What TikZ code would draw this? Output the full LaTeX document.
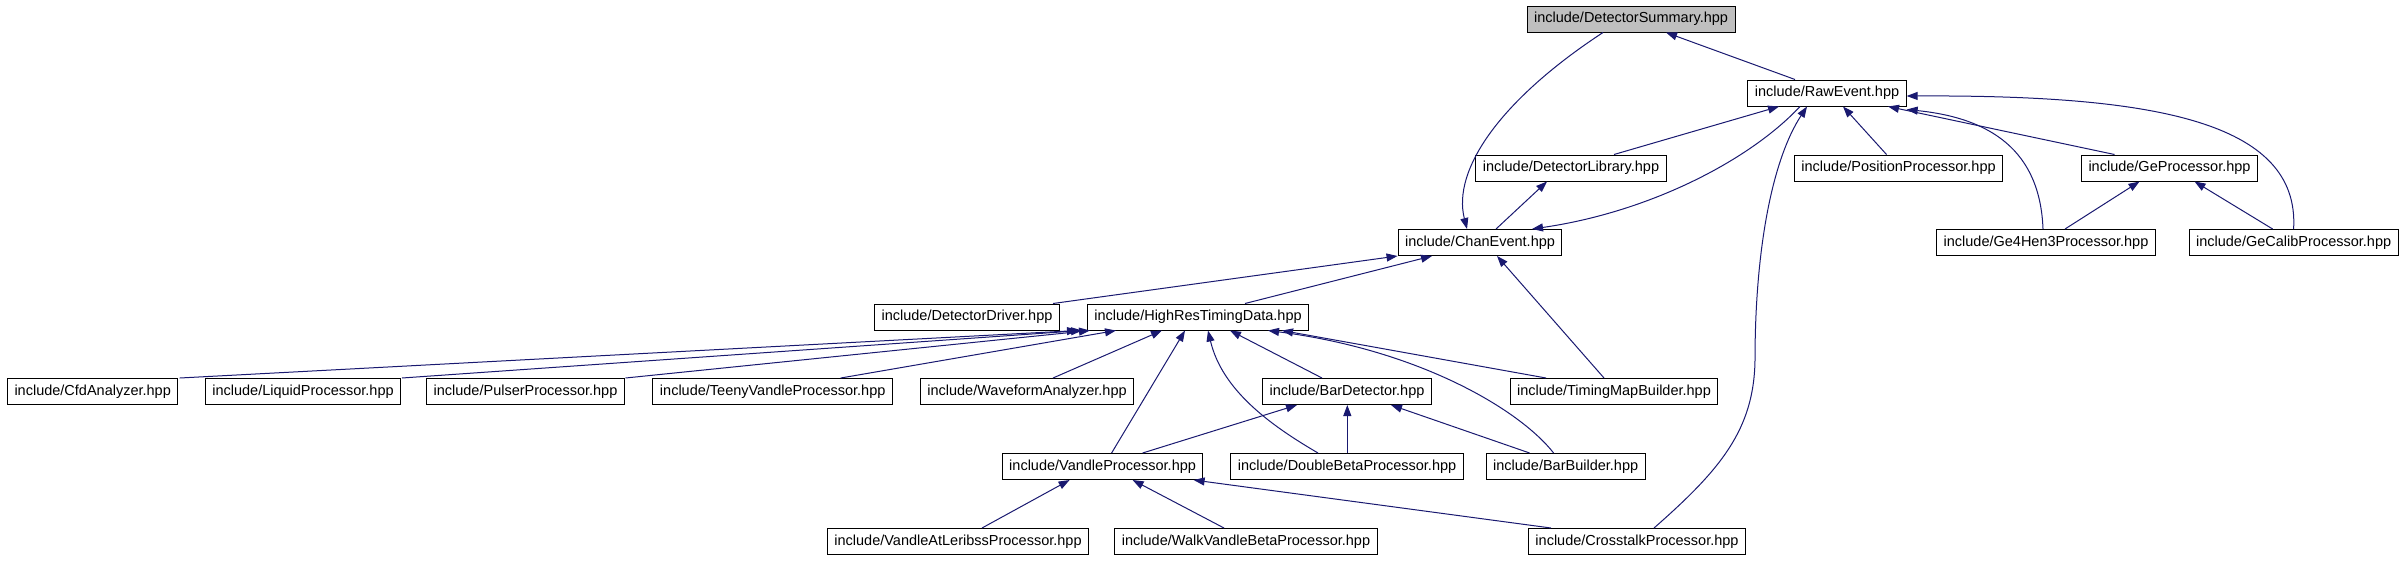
\documentclass[tikz,border=0pt]{standalone}
\usepackage{fontspec}
\setmainfont{Liberation Sans}
\usepackage{tikz}
\usetikzlibrary{arrows.meta}
\definecolor{edgeblue}{HTML}{191970}
\tikzset{
  hdr/.style={draw, fill=white, line width=1pt, inner xsep=7pt, inner ysep=0pt,
    minimum height=26pt, font=\fontsize{14.5}{16}\selectfont},
  cur/.style={hdr, fill=black!25},
  dep/.style={draw=edgeblue, line width=1pt, -{Triangle[length=11pt,width=8pt]}},
  >=Stealth
}
\begin{document}
\begin{tikzpicture}[x=1pt, y=-1pt]
  \useasboundingbox (0,0) rectangle (2405,560);
  % headers
  \node[cur] (ds) at (1631,19) {include/DetectorSummary.hpp};
  \node[hdr] (re) at (1827,93) {include/RawEvent.hpp};
  \node[hdr] (dl) at (1571,168) {include/DetectorLibrary.hpp};
  \node[hdr] (pos) at (1898.5,168) {include/PositionProcessor.hpp};
  \node[hdr] (ge) at (2169.5,168) {include/GeProcessor.hpp};
  \node[hdr] (ce) at (1480,242.5) {include/ChanEvent.hpp};
  \node[hdr] (g4) at (2046,242.5) {include/Ge4Hen3Processor.hpp};
  \node[hdr] (gc) at (2293.6,242.5) {include/GeCalibProcessor.hpp};
  \node[hdr] (dd) at (967,317) {include/DetectorDriver.hpp};
  \node[hdr] (hr) at (1198,317) {include/HighResTimingData.hpp};
  \node[hdr] (ca) at (92.7,391.5) {include/CfdAnalyzer.hpp};
  \node[hdr] (lp) at (303,391.5) {include/LiquidProcessor.hpp};
  \node[hdr] (pu) at (525.5,391.5) {include/PulserProcessor.hpp};
  \node[hdr] (tv) at (772.7,391.5) {include/TeenyVandleProcessor.hpp};
  \node[hdr] (wa) at (1027,391.5) {include/WaveformAnalyzer.hpp};
  \node[hdr] (bd) at (1347,391.5) {include/BarDetector.hpp};
  \node[hdr] (tm) at (1614,391.5) {include/TimingMapBuilder.hpp};
  \node[hdr] (vp) at (1102.6,466.5) {include/VandleProcessor.hpp};
  \node[hdr] (db) at (1347,466.5) {include/DoubleBetaProcessor.hpp};
  \node[hdr] (bb) at (1565.6,466.5) {include/BarBuilder.hpp};
  \node[hdr] (va) at (958,541.5) {include/VandleAtLeribssProcessor.hpp};
  \node[hdr] (wv) at (1246,541.5) {include/WalkVandleBetaProcessor.hpp};
  \node[hdr] (ct) at (1637,541.5) {include/CrosstalkProcessor.hpp};
  % upper part
  \draw[dep] ([xshift=-28pt]ds.south) .. controls (1500,100) and (1452,170) .. ([xshift=-13pt]ce.north);
  \draw[dep] ([xshift=-32pt]re.north) -- ([xshift=35pt]ds.south);
  \draw[dep] ([xshift=43pt]dl.north) -- ([xshift=-48pt]re.south);
  \draw[dep] ([xshift=-27pt]re.south) .. controls (1750,160) and (1650,212) .. ([xshift=52pt]ce.north);
  \draw[dep] ([xshift=-12pt]pos.north) -- ([xshift=16pt]re.south);
  \draw[dep] ([xshift=-55pt]ge.north) -- ([xshift=61pt]re.south);
  \draw[dep] ([xshift=-3pt]g4.north) .. controls (2040,150) and (1990,118) .. ([yshift=-3pt]re.south east);
  \draw[dep] (gc.north) .. controls (2300,120) and (2150,95) .. ([yshift=-3pt]re.east);
  \draw[dep] ([xshift=16pt]ce.north) -- ([xshift=-24pt]dl.south);
  \draw[dep] ([xshift=19pt]g4.north) -- ([xshift=-30pt]ge.south);
  \draw[dep] ([xshift=-21pt]gc.north) -- ([xshift=25pt]ge.south);
  \draw[dep] ([xshift=17pt]ct.north) .. controls (1720,470) and (1754,430) .. (1755,360)
    .. controls (1755,250) and (1772,160) .. ([xshift=-20pt]re.south);
  % around ChanEvent
  \draw[dep] ([xshift=86pt]dd.north) -- (ce.south west);
  \draw[dep] ([xshift=47pt]hr.north) -- ([xshift=-48pt]ce.south);
  \draw[dep] ([xshift=-10pt]tm.north) -- ([xshift=17pt]ce.south);
  % into HighResTimingData
  \draw[dep] ([xshift=87pt]ca.north) -- ([xshift=-120pt]hr.south);
  \draw[dep] ([xshift=99pt]lp.north) -- ([xshift=-116pt]hr.south);
  \draw[dep] ([xshift=100pt]pu.north) -- ([xshift=-108pt]hr.south);
  \draw[dep] ([xshift=68pt]tv.north) -- ([xshift=-82pt]hr.south);
  \draw[dep] ([xshift=26pt]wa.north) -- ([xshift=-36pt]hr.south);
  \draw[dep] ([xshift=9pt]vp.north) -- ([xshift=-13pt]hr.south);
  \draw[dep] ([xshift=-29pt]db.north) .. controls (1270,425) and (1222,390) .. ([xshift=10pt]hr.south);
  \draw[dep] ([xshift=-25pt]bd.north) -- ([xshift=32pt]hr.south);
  \draw[dep] ([xshift=-12pt]bb.north) .. controls (1520,410) and (1420,350) .. ([xshift=70pt]hr.south);
  \draw[dep] ([xshift=-68pt]tm.north) -- ([xshift=84pt]hr.south);
  % lower part
  \draw[dep] ([xshift=40pt]vp.north) -- ([xshift=-50pt]bd.south);
  \draw[dep] ([xshift=0.3pt]db.north) -- ([xshift=0.3pt]bd.south);
  \draw[dep] ([xshift=-36pt]bb.north) -- ([xshift=44pt]bd.south);
  \draw[dep] ([xshift=24pt]va.north) -- ([xshift=-33pt]vp.south);
  \draw[dep] ([xshift=-22pt]wv.north) -- ([xshift=30pt]vp.south);
  \draw[dep] ([xshift=-86pt]ct.north) -- ([xshift=91pt]vp.south);
\end{tikzpicture}
\end{document}
